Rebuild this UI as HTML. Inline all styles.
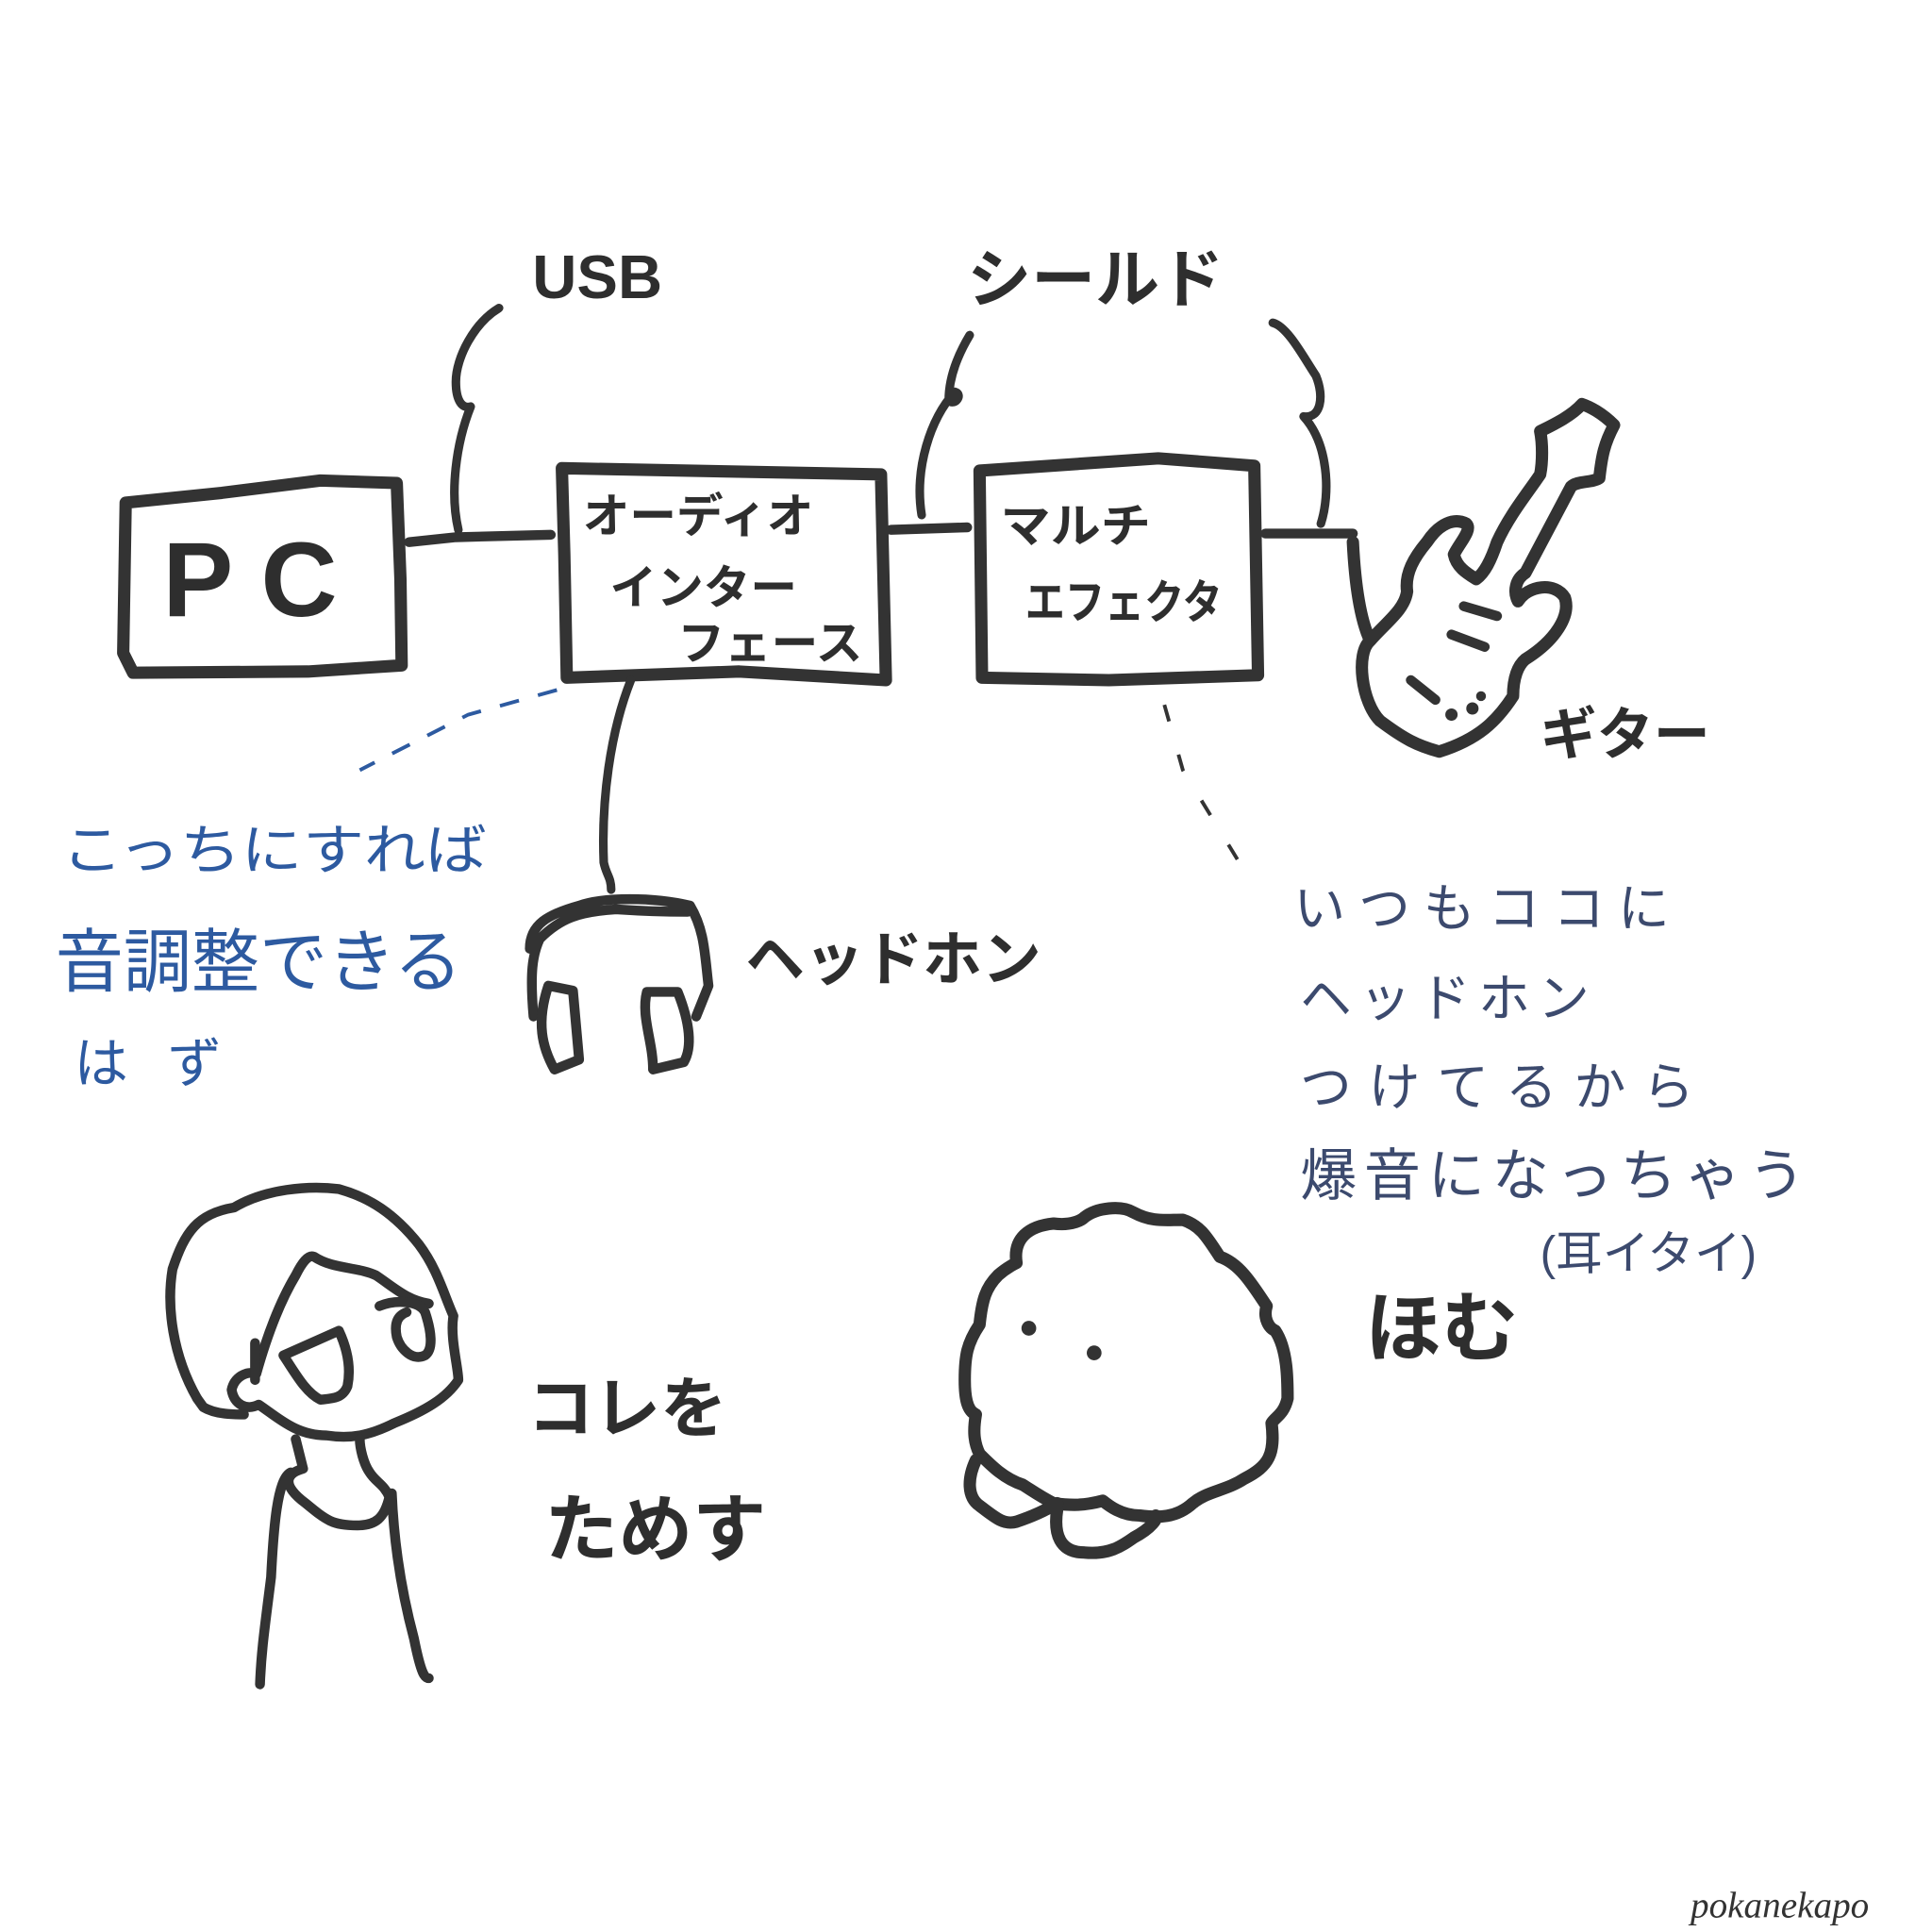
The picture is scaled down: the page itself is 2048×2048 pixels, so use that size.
<!DOCTYPE html>
<html><head><meta charset="utf-8">
<style>
html,body{margin:0;padding:0;background:#fff;}
svg{display:block;}
.k{fill:none;stroke:#333;stroke-linecap:round;stroke-linejoin:round;}
.t{font-family:"Liberation Sans","Noto Sans CJK JP",sans-serif;fill:#2e2e2e;font-weight:bold;}
.b{font-family:"Liberation Sans","Noto Sans CJK JP",sans-serif;fill:#2d5aa0;}
.g{font-family:"Liberation Sans","Noto Sans CJK JP",sans-serif;fill:#3c4a6e;}
</style></head>
<body>
<svg width="2048" height="2048" viewBox="0 0 1568 1568" xmlns="http://www.w3.org/2000/svg">
<rect width="1568" height="1568" fill="#fff"/>
<path class="k" stroke-width="10" d="M102 408 L180 400 L260 390 L322 392 L325 470 L326 540 L250 545 L108 546 L100 530 Z"/>
<text class="t" x="132" y="500" font-size="86" font-weight="900">P C</text>
<path class="k" stroke-width="8" d="M332 440 L370 436 L447 434"/>
<path class="k" stroke-width="10" d="M456 380 L715 385 L719 552 L600 545 L460 550 L458 450 Z"/>
<text class="t" x="473" y="432" font-size="38">オーディオ</text>
<text class="t" x="495" y="490" font-size="38">インター</text>
<text class="t" x="550" y="535" font-size="38">フェース</text>
<path class="k" stroke-width="8" d="M723 430 L785 428"/>
<path class="k" stroke-width="10" d="M795 382 L940 372 L1018 378 L1021 548 L900 552 L797 550 Z"/>
<text class="t" x="812" y="440" font-size="38" textLength="122" lengthAdjust="spacingAndGlyphs">マルチ</text>
<text class="t" x="832" y="502" font-size="38" textLength="160" lengthAdjust="spacingAndGlyphs">エフェクタ</text>
<path class="k" stroke-width="8" d="M1027 433 L1098 433"/>
<text class="t" x="432" y="242" font-size="50">USB</text>
<path class="k" stroke-width="7" d="M405 250 C385 262 370 290 370 310 C370 325 375 332 382 330 C370 360 365 400 372 430"/>
<text class="t" x="785" y="245" font-size="52">シールド</text>
<path class="k" stroke-width="7" d="M787 272 C775 292 770 310 770 325 C775 330 782 320 775 318 C755 340 742 380 748 418"/>
<path class="k" stroke-width="7" d="M1033 262 C1045 265 1058 290 1068 305 C1075 322 1072 340 1058 338 C1078 360 1080 400 1072 425"/>
<path class="k" stroke-width="10" d="M1098 440 C1100 480 1105 505 1112 520 C1100 530 1105 570 1120 585 C1140 600 1150 605 1168 610 C1200 600 1215 585 1228 565 C1228 550 1232 540 1238 535 C1262 520 1275 500 1270 485 C1262 472 1240 475 1232 488 C1228 480 1230 470 1238 465 L1275 395 C1280 390 1292 392 1298 388 C1300 370 1302 360 1310 345 C1300 335 1290 330 1284 328 C1275 338 1260 345 1250 350 C1252 360 1252 375 1250 385 C1240 400 1225 418 1215 440 C1210 455 1205 465 1198 470 C1190 465 1182 460 1180 450 C1185 440 1195 430 1190 425 C1180 420 1168 425 1158 440 C1148 452 1140 465 1142 480 C1140 495 1125 505 1112 520"/>
<path class="k" stroke-width="8" d="M1188 492 L1215 500 M1178 515 L1205 525 M1145 552 L1165 568"/>
<circle cx="1178" cy="580" r="5" fill="#333"/><circle cx="1195" cy="575" r="5" fill="#333"/><circle cx="1202" cy="565" r="4" fill="#333"/>
<text class="t" x="1250" y="612" font-size="46">ギター</text>
<path class="k" stroke-width="7" d="M512 552 C495 595 488 650 490 700 C492 710 496 712 496 722"/>
<path class="k" stroke-width="8" d="M430 770 C430 750 445 742 470 735 C490 728 530 728 560 735 C572 755 572 775 575 800 L565 825 M433 825 C430 790 432 775 438 762 C455 745 470 740 500 738 C530 740 545 740 558 740"/>
<path class="k" stroke-width="8" d="M445 800 L465 804 L470 860 L450 868 C440 850 435 830 445 800 Z"/>
<path class="k" stroke-width="8" d="M525 805 L550 805 C560 830 562 850 555 862 L530 868 C530 845 520 825 525 805 Z"/>
<text class="t" x="605" y="795" font-size="48">ヘッドホン</text>
<path stroke="#2d5aa0" stroke-width="3" fill="none" stroke-dasharray="16 16" d="M452 560 L380 580 L292 625"/>
<text class="b" x="50" y="705" font-size="44" textLength="345" lengthAdjust="spacingAndGlyphs">こっちにすれば</text>
<text class="b" x="45" y="800" font-size="56" textLength="330" lengthAdjust="spacingAndGlyphs">音調整できる</text>
<text class="b" x="60" y="878" font-size="44" textLength="120">はず</text>
<path stroke="#333" stroke-width="3" fill="none" stroke-dasharray="14 28" d="M945 572 L960 625 L1015 715"/>
<text class="g" x="1050" y="752" font-size="42" textLength="305">いつもココに</text>
<text class="g" x="1055" y="825" font-size="42" textLength="235">ヘッドホン</text>
<text class="g" x="1055" y="897" font-size="42" textLength="320">つけてるから</text>
<text class="g" x="1055" y="970" font-size="46" textLength="410">爆音になっちゃう</text>
<text class="g" x="1250" y="1030" font-size="38">(耳イタイ)</text>
<path class="k" stroke-width="8" d="M160 1135 C140 1100 135 1060 140 1030 C150 1000 160 985 190 980 C215 965 250 962 275 965 C300 972 320 985 340 1010 C355 1030 360 1050 368 1068 C365 1085 372 1110 372 1120 C362 1135 345 1145 320 1155 C300 1165 285 1168 265 1165 C240 1165 225 1150 210 1140 C200 1145 190 1140 188 1128 C190 1118 200 1112 208 1115 C215 1090 225 1060 240 1035 C245 1025 250 1018 255 1020 C270 1030 290 1028 305 1035 C320 1045 330 1055 348 1058"/>
<path class="k" stroke-width="8" d="M160 1135 L165 1142 C175 1148 190 1148 198 1148 M207 1090 L207 1120 M230 1100 L275 1080 C282 1095 285 1110 282 1125 C278 1135 270 1135 260 1136 C248 1130 240 1115 230 1100 Z M308 1060 C320 1055 340 1055 345 1065 C350 1080 352 1095 345 1100 C335 1105 325 1095 322 1085 C320 1075 322 1068 330 1065"/>
<path class="k" stroke-width="8" d="M240 1168 L246 1192 C232 1196 228 1205 248 1220 C265 1234 270 1238 290 1238 C305 1238 312 1232 316 1215 C312 1205 305 1203 300 1195 C295 1188 292 1175 292 1168 M236 1195 C225 1200 222 1240 220 1280 C215 1320 212 1340 211 1367 M318 1212 C320 1260 328 1300 336 1330 C342 1360 345 1362 348 1362"/>
<text class="t" x="428" y="1162" font-size="54">コレを</text>
<text class="t" x="442" y="1262" font-size="60">ためす</text>
<path class="k" stroke-width="10" d="M825 1025 C822 1005 835 995 855 993 C870 995 878 990 880 988 C890 980 910 978 920 984 C935 992 945 990 960 990 C975 995 980 1005 990 1020 C1005 1025 1015 1040 1028 1060 C1025 1070 1030 1078 1035 1080 C1045 1095 1045 1120 1045 1135 C1042 1148 1035 1150 1032 1155 C1035 1180 1030 1190 1010 1200 C995 1210 980 1210 968 1220 C955 1232 940 1232 925 1230 C910 1230 900 1222 895 1218 C880 1222 870 1222 855 1220 C845 1215 838 1210 830 1205 C815 1200 805 1190 795 1180 C790 1170 790 1160 792 1148 C785 1145 783 1135 783 1120 C783 1100 785 1090 795 1075 C797 1055 800 1045 810 1035 C818 1028 825 1025 825 1025 Z"/>
<path class="k" stroke-width="10" d="M792 1185 C785 1200 785 1215 795 1222 C808 1232 815 1238 825 1235 C840 1230 850 1225 858 1220 M858 1225 C855 1245 860 1260 880 1260 C900 1262 910 1255 920 1248 C935 1240 940 1232 938 1230"/>
<circle cx="835" cy="1078" r="6" fill="#333"/><circle cx="888" cy="1098" r="6" fill="#333"/>
<text class="t" x="1108" y="1100" font-size="62">ほむ</text>
<text x="1372" y="1556" font-family="'Liberation Serif',serif" font-style="italic" font-size="30" fill="#333">pokanekapo</text>
</svg>
</body></html>
